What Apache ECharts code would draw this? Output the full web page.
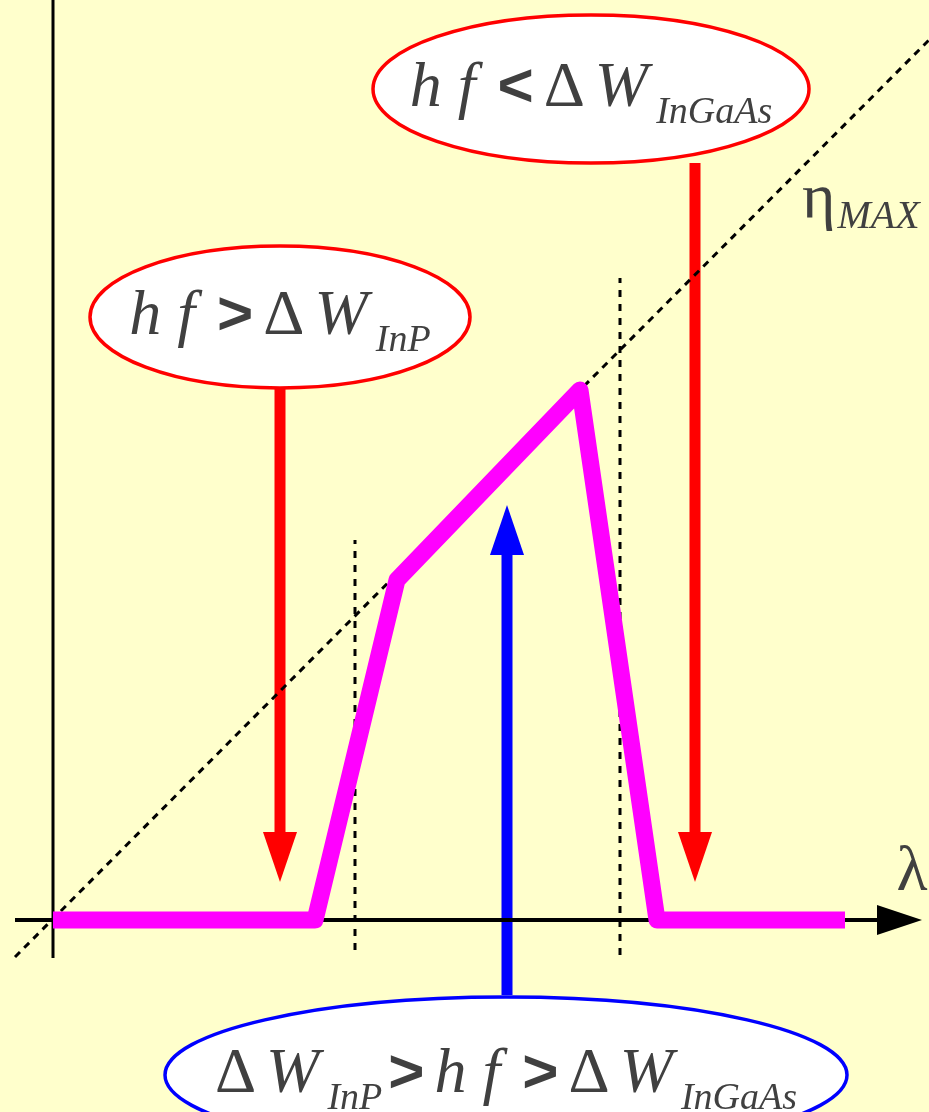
<!DOCTYPE html>
<html><head><meta charset="utf-8">
<script src="https://cdn.jsdelivr.net/npm/echarts@6/dist/echarts.min.js"></script>
<style>html,body{margin:0;padding:0;background:#FFFFCC}#c{width:929px;height:1112px}</style>
</head><body><div id="c"></div>
<script>
// ---- data (diagram units: λ to the right, η upward, origin at axis crossing) ----
// photo-response curve
const curveLambda = [0, 262, 344, 527, 604, 792];
const curveEta    = [0, 0, 340, 530, 0, 0];
// η_MAX straight line
const etaMaxLambda = [-38, 876];
const etaMaxEta    = [-37, 880];
// cut-off wavelengths (InP, InGaAs)
const cutoffLambda = [302, 567];
const cutoffLow    = [-30, -35];
const cutoffHigh   = [380, 642];
// arrows: position, start, tip
const arrowLambda = [227, 642, 454];
const arrowFrom   = [532, 757, -75];
const arrowTo     = [38, 38, 415];
// bubbles: centre and radii
const bubbleLambda = [538, 227, 453];
const bubbleEta    = [831, 603, -155];
const bubbleRx     = [218, 190, 341];
const bubbleRy     = [74, 71, 78];
const bubbleText = [
  '{i|h f }{op|<}{u|Δ}{i|W}{sub|InGaAs}',
  '{i|h f }{op|>}{u|Δ}{i|W}{sub|InP}',
  '{u|Δ}{i|W}{sub|InP}{op|>}{i|h f }{op|>}{u|Δ}{i|W}{sub|InGaAs}'
];
// axis arrow tip and axis labels
const axisLambdaEnd = [-38, 826];
const axisEtaEnd = [-38, 920];
const axisArrowTip = [869, 0];
const axisLabelText = ['{g|λ}', '{g|η}{s|MAX}'];
const axisLabelLambda = [859, 749];
const axisLabelEta = [47, 720];

// ---- chart ----
const INK = '#404040';
const RED = '#FF0000', BLUE = '#0000FF', MAG = '#FF00FF';
const bubbleColor = [RED, RED, BLUE];
const arrowColor = [RED, RED, BLUE];
const rich = {
  i:  {fontFamily: 'Liberation Serif', fontStyle: 'italic', fontSize: 64, lineHeight: 70, fill: INK},
  u:  {fontFamily: 'Liberation Serif', fontSize: 64, lineHeight: 70, fill: INK, padding: [0, 10, 0, 0]},
  op: {fontFamily: 'Liberation Sans', fontWeight: 'bold', fontSize: 62, lineHeight: 70, fill: INK, padding: [0, 10, 0, 6]},
  sub:{fontFamily: 'Liberation Serif', fontStyle: 'italic', fontSize: 38, lineHeight: 8, verticalAlign: 'middle', fill: INK, padding: [48, 0, 0, 8]},
  g:  {fontFamily: 'Liberation Serif', fontSize: 64, lineHeight: 70, fill: INK},
  s:  {fontFamily: 'Liberation Serif', fontStyle: 'italic', fontSize: 40, lineHeight: 8, verticalAlign: 'middle', fill: INK, padding: [34, 0, 0, 2]}
};

const chart = echarts.init(document.getElementById('c'));
const pair = (a, b) => a.map((v, i) => [v, b[i]]);

const series = [];
// dashed η_MAX line
series.push({type: 'line', z: 3, symbol: 'none', silent: true, data: pair(etaMaxLambda, etaMaxEta),
  lineStyle: {color: '#000', width: 3, type: [7, 6]}});
// dashed cut-off lines
cutoffLambda.forEach((l, i) => series.push({type: 'line', z: 3, symbol: 'none', silent: true,
  data: [[l, cutoffLow[i]], [l, cutoffHigh[i]]],
  lineStyle: {color: '#000', width: 3, type: [7, 7]}}));
// axes
series.push({type: 'line', z: 4, symbol: 'none', silent: true,
  data: axisLambdaEnd.map(v => [v, 0]), lineStyle: {color: '#000', width: 4}});
series.push({type: 'line', z: 4, symbol: 'none', silent: true,
  data: axisEtaEnd.map(v => [0, v]), lineStyle: {color: '#000', width: 3}});
series.push({type: 'custom', z: 4, silent: true, data: [axisArrowTip],
  renderItem: (p, api) => {
    const t = api.coord([api.value(0), api.value(1)]);
    return {type: 'polygon', shape: {points: [[t[0] - 45, t[1] - 15], [t[0], t[1]], [t[0] - 45, t[1] + 15]]},
      style: {fill: '#000'}};
  }});
// arrows
series.push({type: 'custom', z: 2, silent: true,
  data: arrowLambda.map((l, i) => [l, arrowFrom[i], arrowTo[i]]),
  renderItem: (p, api) => {
    const c = arrowColor[p.dataIndex];
    const a = api.coord([api.value(0), api.value(1)]);
    const b = api.coord([api.value(0), api.value(2)]);
    const dir = Math.sign(b[1] - a[1]);
    const headLen = 50, headW = 34, shaftW = 11;
    const baseY = b[1] - dir * headLen;
    return {type: 'group', children: [
      {type: 'rect', shape: {x: a[0] - shaftW / 2, y: Math.min(a[1], baseY), width: shaftW, height: Math.abs(baseY - a[1])}, style: {fill: c}},
      {type: 'polygon', shape: {points: [[b[0] - headW / 2, baseY], [b[0] + headW / 2, baseY], [b[0], b[1]]]}, style: {fill: c}}
    ]};
  }});
// response curve
series.push({type: 'line', z: 5, symbol: 'none', silent: true, data: pair(curveLambda, curveEta),
  lineStyle: {color: MAG, width: 17, join: 'round', cap: 'butt'}});
// bubbles
series.push({type: 'custom', z: 6, silent: true,
  data: bubbleLambda.map((l, i) => [l, bubbleEta[i], bubbleRx[i], bubbleRy[i]]),
  renderItem: (p, api) => {
    const i = p.dataIndex;
    const c = api.coord([api.value(0), api.value(1)]);
    const s = api.size([api.value(2), api.value(3)]);
    return {type: 'group', children: [
      {type: 'ellipse', shape: {cx: c[0], cy: c[1], rx: s[0], ry: s[1]},
        style: {fill: '#FFFFFF', stroke: bubbleColor[i], lineWidth: 3.5}},
      {type: 'text', style: {x: c[0], y: c[1], text: bubbleText[i], rich: rich, align: 'center', verticalAlign: 'middle'}}
    ]};
  }});
// axis labels
series.push({type: 'custom', z: 6, silent: true,
  data: pair(axisLabelLambda, axisLabelEta),
  renderItem: (p, api) => {
    const i = p.dataIndex;
    const c = api.coord([api.value(0), api.value(1)]);
    return {type: 'text', style: {x: c[0], y: c[1], text: axisLabelText[i], rich: rich,
      align: i === 0 ? 'center' : 'left', verticalAlign: 'middle'}};
  }});

chart.setOption({
  animation: false,
  backgroundColor: '#FFFFCC',
  grid: {left: 0, right: 0, top: 0, bottom: 0, containLabel: false},
  xAxis: {type: 'value', min: -53, max: 876, show: false},
  yAxis: {type: 'value', min: -192, max: 920, show: false},
  series: series
});
</script></body></html>
